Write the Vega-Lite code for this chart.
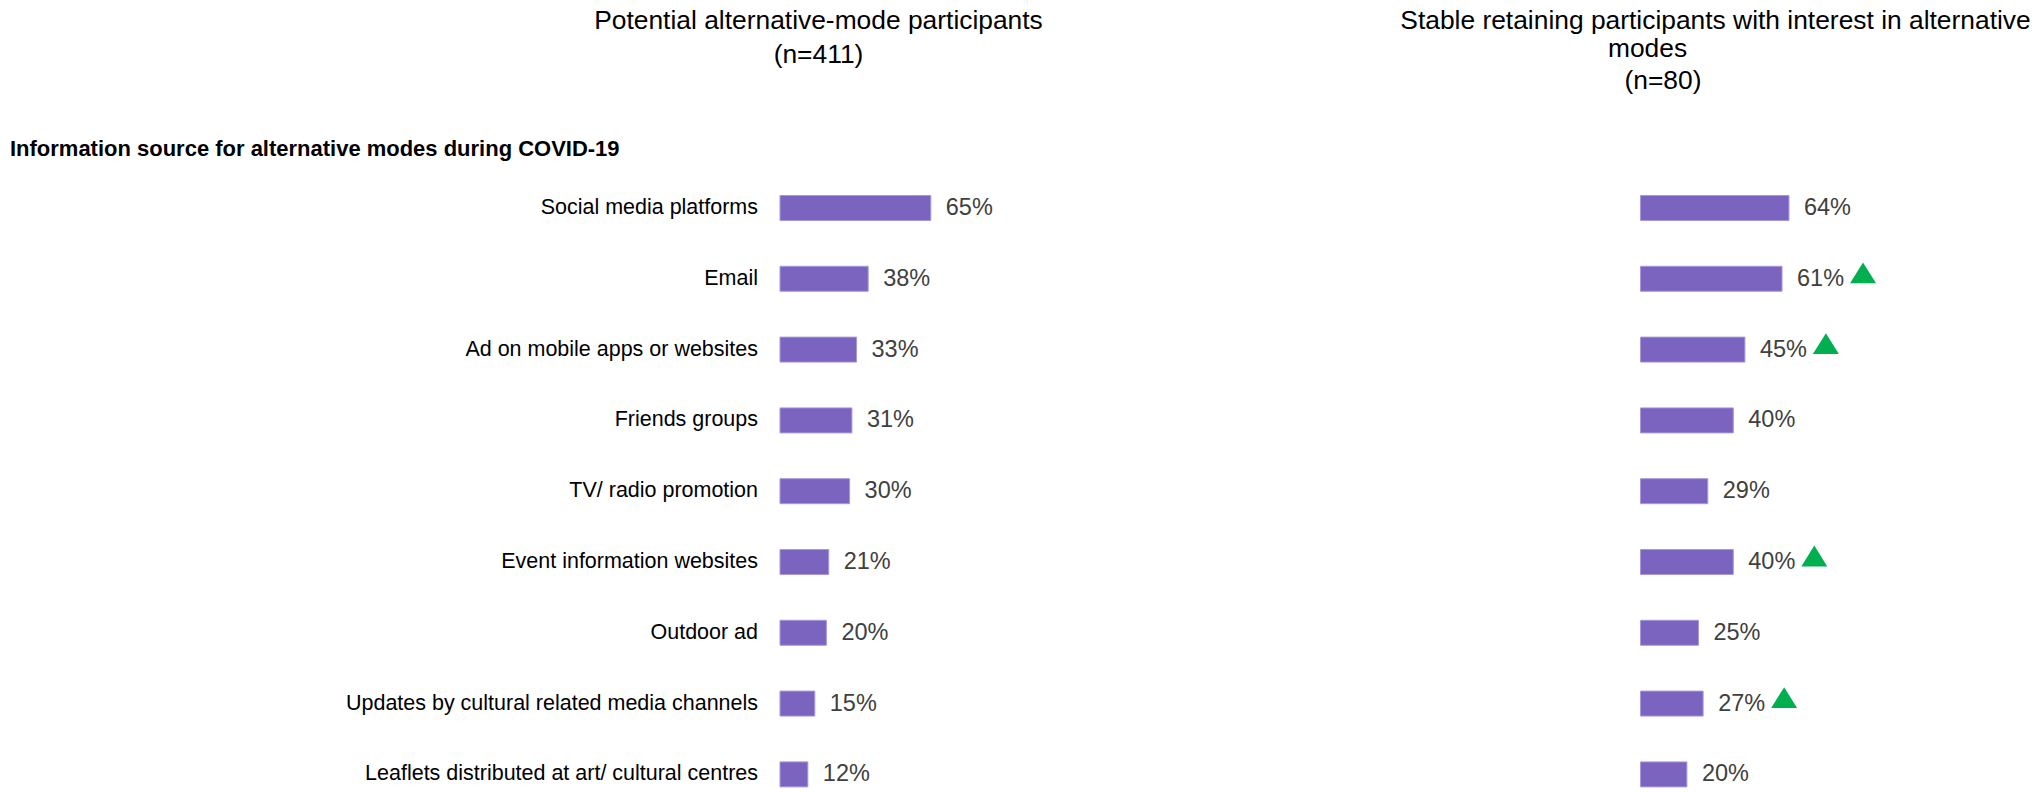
{
  "$schema": "https://vega.github.io/schema/vega-lite/v6.json",
  "padding": {"left": 9, "top": 6.6, "right": 5, "bottom": 5},
  "bounds": "flush",
  "spacing": 628.5,
  "config": {"view": {"stroke": null}, "font": "Liberation Sans"},
  "datasets": {
    "potential": [
      {"source": "Social media platforms", "value": 0.65},
      {"source": "Email", "value": 0.38},
      {"source": "Ad on mobile apps or websites", "value": 0.33},
      {"source": "Friends groups", "value": 0.31},
      {"source": "TV/ radio promotion", "value": 0.30},
      {"source": "Event information websites", "value": 0.21},
      {"source": "Outdoor ad", "value": 0.20},
      {"source": "Updates by cultural related media channels", "value": 0.15},
      {"source": "Leaflets distributed at art/ cultural centres", "value": 0.12}
    ],
    "stable": [
      {"source": "Social media platforms", "value": 0.64, "up": false},
      {"source": "Email", "value": 0.61, "up": true},
      {"source": "Ad on mobile apps or websites", "value": 0.45, "up": true},
      {"source": "Friends groups", "value": 0.40, "up": false},
      {"source": "TV/ radio promotion", "value": 0.29, "up": false},
      {"source": "Event information websites", "value": 0.40, "up": true},
      {"source": "Outdoor ad", "value": 0.25, "up": false},
      {"source": "Updates by cultural related media channels", "value": 0.27, "up": true},
      {"source": "Leaflets distributed at art/ cultural centres", "value": 0.20, "up": false}
    ]
  },
  "hconcat": [
    {
      "width": 232,
      "height": 637.2,
      "data": {"name": "potential"},
      "encoding": {
        "y": {
          "field": "source", "type": "nominal", "sort": null,
          "scale": {"paddingInner": 0.647, "paddingOuter": 0.3235},
          "axis": {
            "title": "Information source for alternative modes during COVID-19",
            "titleAngle": 0, "titleAlign": "left", "titleBaseline": "alphabetic",
            "titleX": -770.5, "titleY": -16.6,
            "titleFontSize": 22, "titleFontWeight": "bold", "titleColor": "#000000", "titleFont": "Liberation Sans",
            "domain": false, "ticks": false, "tickSize": 0, "grid": false,
            "labelPadding": 22.5, "labelFontSize": 21.5, "labelColor": "#000000", "labelFont": "Liberation Sans", "labelLimit": 800
          }
        },
        "x": {
          "field": "value", "type": "quantitative",
          "scale": {"domain": [0, 1], "nice": false, "zero": true},
          "axis": {
            "orient": "top",
            "title": ["Potential alternative-mode participants", "(n=411)"],
            "labels": false, "ticks": false, "domain": false, "grid": false,
            "titleX": 38, "titleY": -165.5, "titleAlign": "center", "titleBaseline": "top", "titleAngle": 0,
            "titleFontSize": 26.4, "titleFontWeight": "normal", "titleColor": "#000000", "titleFont": "Liberation Sans",
            "titleLineHeight": 34
          }
        }
      },
      "layer": [
        {"mark": {"type": "bar", "fill": "#7B64C0", "stroke": "#A798DC", "strokeWidth": 1}},
        {
          "mark": {"type": "text", "align": "left", "baseline": "middle", "dx": 15, "fontSize": 23.5, "color": "#404040", "font": "Liberation Sans"},
          "encoding": {"text": {"field": "value", "type": "quantitative", "format": ".0%"}}
        }
      ]
    },
    {
      "width": 232,
      "height": 637.2,
      "data": {"name": "stable"},
      "resolve": {"axis": {"y": "independent"}},
      "encoding": {
        "x": {
          "field": "value", "type": "quantitative",
          "scale": {"domain": [0, 1], "nice": false, "zero": true},
          "axis": {
            "orient": "top",
            "title": "Stable retaining participants with interest in alternative",
            "labels": false, "ticks": false, "domain": false, "grid": false,
            "titleX": 74.5, "titleY": -165.5, "titleAlign": "center", "titleBaseline": "top", "titleAngle": 0,
            "titleFontSize": 26.4, "titleFontWeight": "normal", "titleColor": "#000000", "titleFont": "Liberation Sans"
          }
        }
      },
      "layer": [
        {
          "mark": {"type": "bar", "fill": "#7B64C0", "stroke": "#A798DC", "strokeWidth": 1},
          "encoding": {
            "y": {
              "field": "source", "type": "nominal", "sort": null,
              "scale": {"paddingInner": 0.647, "paddingOuter": 0.3235},
              "axis": {
                "orient": "left", "title": "modes",
                "labels": false, "ticks": false, "domain": false, "grid": false,
                "titleX": 6.5, "titleY": -116.1, "titleAlign": "center", "titleBaseline": "alphabetic", "titleAngle": 0,
                "titleFontSize": 26.4, "titleFontWeight": "normal", "titleColor": "#000000", "titleFont": "Liberation Sans"
              }
            }
          }
        },
        {
          "mark": {"type": "text", "align": "left", "baseline": "middle", "dx": 15, "fontSize": 23.5, "color": "#404040", "font": "Liberation Sans"},
          "encoding": {
            "y": {
              "field": "source", "type": "nominal", "sort": null,
              "axis": {
                "orient": "left", "title": "(n=80)",
                "labels": false, "ticks": false, "domain": false, "grid": false,
                "titleX": 22, "titleY": -83.6, "titleAlign": "center", "titleBaseline": "alphabetic", "titleAngle": 0,
                "titleFontSize": 26.4, "titleFontWeight": "normal", "titleColor": "#000000", "titleFont": "Liberation Sans"
              }
            },
            "text": {"field": "value", "type": "quantitative", "format": ".0%"}
          }
        },
        {
          "transform": [{"filter": "datum.up"}],
          "mark": {"type": "point", "shape": "M0,-0.8L1,0.8L-1,0.8Z", "filled": true, "fill": "#00B050", "color": "#00B050", "opacity": 1, "strokeWidth": 0, "size": 676, "xOffset": 81, "yOffset": -6},
          "encoding": {
            "y": {"field": "source", "type": "nominal", "sort": null, "axis": null}
          }
        }
      ]
    }
  ]
}
